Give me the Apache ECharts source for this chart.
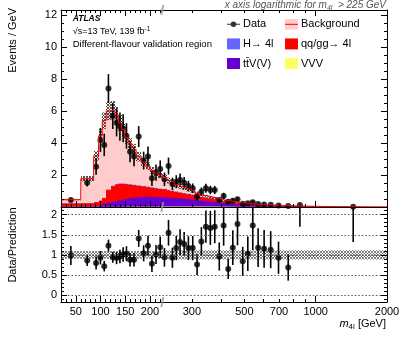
<!DOCTYPE html>
<html><head><meta charset="utf-8">
<script src="https://cdn.jsdelivr.net/npm/echarts@6/dist/echarts.min.js"></script>
<style>html,body{margin:0;padding:0;background:#fff;}#chart{width:407px;height:344px;}</style>
</head><body><div id="chart"></div>
<script>
// ---------------- data ----------------
const binEdges = [20, 60, 86, 96, 103.5, 111.5, 120.5, 129, 136, 142.5, 149, 156, 163.5, 172, 182.5, 192, 200, 208, 216.5, 225,
  234.5, 243.5, 253, 262.5, 272.5, 284, 296, 309, 322, 336, 351.5, 366.5, 383, 400, 417, 437, 456, 479, 504.5, 529, 555.5,
  587, 624, 667, 726, 805, 910, 1030, 1170, 1340, 1540, 1760, 2000];
// data, events / GeV (null = no entry)
const dataValues = [0.44, 1.52, 2.52, 4.19, 3.88, 7.40, 5.69, 5.27, 5.02, 4.92, 4.44, 3.46, 3.15, 4.40, 2.90, 3.15, 1.79, 2.15, 2.38,
  1.73, 2.56, 1.44, 1.58, 1.69, 1.52, 1.31, 1.17, 0.65, 0.96, 1.17, 1.06, 1.06, 0.44, 0.69, 0.33, 0.39, 0.48, 0.21, 0.23,
  0.30, 0.19, 0.16, 0.14, 0.09, 0.055, 0.12, null, null, null, 0.02, null, null];
// data / prediction
const ratioValues = [0.985, 0.86, 0.80, 0.93, 0.72, 1.23, 0.94, 0.92, 0.96, 1.01, 1.03, 0.88, 0.88, 1.41, 1.04, 1.23, 0.78, 1.01, 1.19,
  0.94, 1.55, 0.93, 1.17, 1.32, 1.27, 1.17, 1.17, 0.76, 1.33, 1.70, 1.67, 1.70, 0.96, 1.73, 0.65, 1.18, 1.77, 0.84, 1.03,
  1.73, 1.18, 1.15, 1.13, 0.93, 0.69, 2.4, null, null, null, 3.0, null, null];
const ratioErrors = [0.235, 0.137, 0.16, 0.166, 0.13, 0.15, 0.135, 0.15, 0.168, 0.18, 0.185, 0.17, 0.17, 0.21, 0.20, 0.245, 0.206, 0.236, 0.265,
  0.23, 0.32, 0.25, 0.30, 0.32, 0.30, 0.295, 0.30, 0.26, 0.36, 0.40, 0.42, 0.41, 0.35, 0.50, 0.25, 0.43, 0.53, 0.36, 0.43,
  0.61, 0.48, 0.47, 0.46, 0.40, 0.33, 0.70, null, null, null, 1.68, null, null];
// stacked prediction: upper edge of each layer (events / GeV)
const totalPred = [0.46, 1.77, 3.2, 4.45, 5.4, 6.0, 6.05, 5.75, 5.25, 4.85, 4.35, 3.95, 3.6, 3.15, 2.8, 2.55, 2.3, 2.13, 2.0,
  1.84, 1.66, 1.55, 1.38, 1.28, 1.19, 1.10, 1.00, 0.86, 0.73, 0.68, 0.63, 0.57, 0.50, 0.42, 0.38, 0.33, 0.28, 0.25, 0.22,
  0.18, 0.16, 0.14, 0.125, 0.10, 0.08, 0.055, 0.04, 0.028, 0.019, 0.013, 0.009, 0.006];
const stackTopH = [0.225, 0.235, 0.31, 0.40, 0.57, 1.09, 1.33, 1.43, 1.47, 1.47, 1.45, 1.42, 1.39, 1.35, 1.31, 1.27, 1.23, 1.19, 1.15,
  1.13, 1.07, 1.02, 0.97, 0.92, 0.87, 0.83, 0.78, 0.71, 0.63, 0.59, 0.55, 0.51, 0.425, 0.375, 0.34, 0.30, 0.26, 0.23, 0.20,
  0.165, 0.145, 0.125, 0.11, 0.089, 0.071, 0.05, 0.036, 0.025, 0.017, 0.012, 0.008, 0.0055];
const stackTopQQ = [0.22, 0.23, 0.30, 0.39, 0.55, 1.06, 1.30, 1.40, 1.44, 1.44, 1.42, 1.39, 1.36, 1.32, 1.28, 1.24, 1.20, 1.16, 1.12,
  1.10, 1.04, 0.99, 0.94, 0.89, 0.84, 0.80, 0.75, 0.69, 0.61, 0.57, 0.53, 0.49, 0.41, 0.36, 0.33, 0.29, 0.25, 0.22, 0.19,
  0.16, 0.14, 0.12, 0.105, 0.085, 0.068, 0.048, 0.034, 0.024, 0.016, 0.011, 0.0075, 0.005];
const stackTopTTV = [0.03, 0.04, 0.07, 0.12, 0.19, 0.26, 0.32, 0.37, 0.42, 0.46, 0.51, 0.55, 0.59, 0.62, 0.64, 0.65, 0.64, 0.63, 0.62,
  0.62, 0.60, 0.58, 0.56, 0.54, 0.52, 0.50, 0.47, 0.44, 0.40, 0.37, 0.34, 0.31, 0.28, 0.25, 0.22, 0.19, 0.16, 0.14, 0.12,
  0.10, 0.085, 0.07, 0.06, 0.048, 0.038, 0.027, 0.019, 0.013, 0.009, 0.006, 0.004, 0.0027];
const stackTopVVV = [0.01, 0.01, 0.01, 0.01, 0.01, 0.01, 0.01, 0.01, 0.01, 0.01, 0.02, 0.02, 0.02, 0.02, 0.02, 0.02, 0.02, 0.02, 0.02,
  0.03, 0.03, 0.03, 0.03, 0.03, 0.03, 0.03, 0.03, 0.03, 0.03, 0.03, 0.03, 0.025, 0.022, 0.02, 0.018, 0.016, 0.014, 0.012, 0.01,
  0.009, 0.008, 0.007, 0.006, 0.005, 0.004, 0.003, 0.0025, 0.002, 0.0015, 0.001, 0.0008, 0.0006];
// relative uncertainty of the prediction
const relUnc = [0.095, 0.095, 0.095, 0.095, 0.095, 0.095, 0.095, 0.095, 0.095, 0.095, 0.095, 0.095, 0.095, 0.095, 0.095, 0.095, 0.095, 0.095, 0.095,
  0.115, 0.115, 0.115, 0.115, 0.115, 0.115, 0.115, 0.115, 0.115, 0.115, 0.115, 0.115, 0.115, 0.115, 0.115, 0.115, 0.115, 0.115, 0.115, 0.115,
  0.115, 0.115, 0.115, 0.115, 0.115, 0.115, 0.115, 0.115, 0.115, 0.115, 0.115, 0.115, 0.115];

// ticks / labels
const linTicksMajor = [50, 100, 150, 200];
const linTicksMinor = [30, 40, 60, 70, 80, 90, 110, 120, 130, 140, 160, 170, 180, 190, 210, 220];
const linLabels = [50, 100, 150, 200];
const logTicksMajor = [1000];
const logTicksMinor = [300, 400, 500, 600, 700, 800, 900, 2000];
const logLabels = [300, 500, 700, 1000, 2000];
const mainYTicks = [0, 2, 4, 6, 8, 10, 12];
const mainYLabels = [2, 4, 6, 8, 10, 12];
const mainYMinor = [0.5, 1, 1.5, 2.5, 3, 3.5, 4.5, 5, 5.5, 6.5, 7, 7.5, 8.5, 9, 9.5, 10.5, 11, 11.5];
const ratioYTicks = [0, 0.5, 1, 1.5, 2];
const ratioYLabels = [0, 0.5, 1, 1.5, 2];
const ratioYMinor = [-0.1, 0.1, 0.2, 0.3, 0.4, 0.6, 0.7, 0.8, 0.9, 1.1, 1.2, 1.3, 1.4, 1.6, 1.7, 1.8, 1.9, 2.1];

// ---------------- layout / style ----------------
const FONT = "'Liberation Sans', Arial, Helvetica, sans-serif";
const xMin = 20, xSplit = 225, xMax = 2000;
const yMainMax = 12.31, yRatioMin = -0.17, yRatioMax = 2.19;
const PL = 61, PR = 387, PX = 162.3, PT = 10, PM = 207, PB = 302;
const COL = {bkg: '#ffcccc', bkgLine: '#ff0000', h: '#6666ff', qq: '#ff0000', ttv: '#6600cc', vvv: '#ffff66'};
const NAME_TTV = 'tt\u0304V(V)';

function hatch(color, s) {
  const c = document.createElement('canvas'); c.width = s; c.height = s;
  const g = c.getContext('2d'); g.fillStyle = color;
  for (let i = 0; i < s; i++) { g.fillRect(i, i, 1, 1); g.fillRect(s - 1 - i, i, 1, 1); }
  return c;
}
const mainPattern = {image: hatch('rgba(50,50,50,0.85)', 3), repeat: 'repeat'};
const ratioPattern = {image: hatch('rgba(90,90,90,0.75)', 3), repeat: 'repeat'};

const rects = [
  {left: PL, top: PT, width: PX - PL, height: PM - PT},
  {left: PX, top: PT, width: PR - PX, height: PM - PT},
  {left: PL, top: PM, width: PX - PL, height: PB - PM},
  {left: PX, top: PM, width: PR - PX, height: PB - PM}
];
const grid = rects.concat(rects.map(r => Object.assign({}, r)));

const xAxis = [], yAxis = [];
function addX(gi, log, pos, ticks, len, labels, line) {
  xAxis.push({
    type: log ? 'log' : 'value', logBase: 10, gridIndex: gi, position: pos,
    min: log ? xSplit : xMin, max: log ? xMax : xSplit, z: 10, silent: true,
    axisLine: {show: line, onZero: false, lineStyle: {color: '#000', width: 1}},
    axisTick: {show: true, inside: true, length: len, customValues: ticks, lineStyle: {color: '#000', width: 1}},
    axisLabel: labels ? {show: true, customValues: labels, margin: 4, color: '#000', fontSize: 11, fontFamily: FONT,
      formatter: v => String(Math.round(v))} : {show: false},
    splitLine: {show: false}, minorTick: {show: false}, minorSplitLine: {show: false}
  });
  return xAxis.length - 1;
}
function addY(gi, ratio, pos, ticks, len, labels, line, split) {
  yAxis.push({
    type: 'value', gridIndex: gi, position: pos, z: 10, silent: true,
    min: ratio ? yRatioMin : 0, max: ratio ? yRatioMax : yMainMax,
    axisLine: {show: line, onZero: false, lineStyle: {color: '#000', width: 1}},
    axisTick: {show: true, inside: true, length: len, customValues: ticks, lineStyle: {color: '#000', width: 1}},
    axisLabel: labels ? {show: true, customValues: labels, margin: 4, color: '#000', fontSize: 11, fontFamily: FONT,
      formatter: v => String(Math.round(v * 10) / 10)} : {show: false},
    splitLine: {show: split, lineStyle: {color: '#555', width: 1, type: [1.5, 2]}},
    minorTick: {show: false}, minorSplitLine: {show: false}
  });
  return yAxis.length - 1;
}
const xI = [], yI = [];
xI[0] = addX(0, false, 'bottom', linTicksMajor, 6, null, true); addX(0, false, 'top', linTicksMajor, 6, null, true);
yI[0] = addY(0, false, 'left', mainYTicks, 6, mainYLabels, true, false);
xI[1] = addX(1, true, 'bottom', logTicksMajor, 6, null, true); addX(1, true, 'top', logTicksMajor, 6, null, true);
yI[1] = addY(1, false, 'right', mainYTicks, 6, null, true, false);
xI[2] = addX(2, false, 'bottom', linTicksMajor, 6, linLabels, true);
yI[2] = addY(2, true, 'left', ratioYTicks, 6, ratioYLabels, true, true);
xI[3] = addX(3, true, 'bottom', logTicksMajor, 6, logLabels, true);
yI[3] = addY(3, true, 'right', ratioYTicks, 6, null, true, true);
// minor ticks on overlapping grids
addX(4, false, 'bottom', linTicksMinor, 3, null, false); addX(4, false, 'top', linTicksMinor, 3, null, false);
addY(4, false, 'left', mainYMinor, 3, null, false, false);
addX(5, true, 'bottom', logTicksMinor, 3, null, false); addX(5, true, 'top', logTicksMinor, 3, null, false);
addY(5, false, 'right', mainYMinor, 3, null, false, false);
addX(6, false, 'bottom', linTicksMinor, 3, null, false);
addY(6, true, 'left', ratioYMinor, 3, null, false, false);
addX(7, true, 'bottom', logTicksMinor, 3, null, false);
addY(7, true, 'right', ratioYMinor, 3, null, false, false);

// ---------------- series ----------------
const nBins = binEdges.length - 1;
const parts = [{lo: xMin, hi: xSplit, main: 0, ratio: 2}, {lo: xSplit, hi: xMax, main: 1, ratio: 3}];
function binsIn(p) { const r = []; for (let i = 0; i < nBins; i++) if (binEdges[i] >= p.lo && binEdges[i + 1] <= p.hi) r.push(i); return r; }
const centre = i => (binEdges[i] + binEdges[i + 1]) / 2;

function rectSeries(name, gi, data, fill) {
  return {
    type: 'custom', name, xAxisIndex: xI[gi], yAxisIndex: yI[gi], clip: true, silent: true,
    itemStyle: {color: typeof fill === 'string' ? fill : '#888'},
    dimensions: ['x0', 'x1', 'y0', 'y1'], encode: {x: [0, 1], y: [2, 3]}, data,
    renderItem: (params, api) => {
      const a = api.coord([api.value(0), api.value(2)]);
      const b = api.coord([api.value(1), api.value(3)]);
      const x0 = Math.round(a[0]), x1 = Math.round(b[0]);
      return {type: 'rect', shape: {x: x0, y: Math.min(a[1], b[1]), width: x1 - x0, height: Math.abs(a[1] - b[1])}, style: {fill}};
    }
  };
}
function errSeries(gi, data, w) {
  return {
    type: 'custom', xAxisIndex: xI[gi], yAxisIndex: yI[gi], clip: true, silent: true,
    dimensions: ['x', 'lo', 'hi'], encode: {x: 0, y: [1, 2]}, data,
    renderItem: (params, api) => {
      const a = api.coord([api.value(0), api.value(1)]);
      const b = api.coord([api.value(0), api.value(2)]);
      return {type: 'line', shape: {x1: a[0], y1: a[1], x2: b[0], y2: b[1]}, style: {stroke: '#000', lineWidth: w}};
    }
  };
}

const series = [];
parts.forEach((p, k) => {
  const idx = binsIn(p), gi = p.main, ri = p.ratio;
  const layer = (name, arr, col) => rectSeries(name, gi, idx.map(i => [binEdges[i], binEdges[i + 1], 0, arr[i]]), col);
  series.push(layer('Background', totalPred, COL.bkg));
  series.push(layer('H→ 4l', stackTopH, COL.h));
  series.push(layer('qq/gg→ 4l', stackTopQQ, COL.qq));
  series.push(layer(NAME_TTV, stackTopTTV, COL.ttv));
  series.push(layer('VVV', stackTopVVV, COL.vvv));
  // red outline of the total
  const pts = [];
  if (k === 1) pts.push([xSplit, totalPred[idx[0] - 1]]);
  idx.forEach(i => { pts.push([binEdges[i], totalPred[i]], [binEdges[i + 1], totalPred[i]]); });
  series.push({type: 'line', name: 'outline', xAxisIndex: xI[gi], yAxisIndex: yI[gi], data: pts, symbol: 'none', silent: true,
    clip: true, lineStyle: {color: COL.bkgLine, width: 1}});
  // uncertainty band
  series.push(rectSeries('unc', gi, idx.map(i => [binEdges[i], binEdges[i + 1], totalPred[i] * (1 - relUnc[i]), totalPred[i] * (1 + relUnc[i])]), mainPattern));
  // data
  const di = idx.filter(i => dataValues[i] != null);
  series.push(errSeries(gi, di.map(i => {
    const e = dataValues[i] * ratioErrors[i] / ratioValues[i];
    return [centre(i), dataValues[i] - e, dataValues[i] + e];
  }), 1.6));
  series.push({type: 'scatter', name: 'Data', xAxisIndex: xI[gi], yAxisIndex: yI[gi], symbol: 'circle', symbolSize: 6, silent: true,
    itemStyle: {color: '#000'}, clip: true, data: di.map(i => [centre(i), dataValues[i]])});
  // ratio panel
  series.push(rectSeries('uncRatio', ri, idx.map(i => [binEdges[i], binEdges[i + 1], 1 - relUnc[i], 1 + relUnc[i]]), ratioPattern));
  const rdi = idx.filter(i => ratioValues[i] != null);
  series.push(errSeries(ri, rdi.map(i => [centre(i), ratioValues[i] - ratioErrors[i], ratioValues[i] + ratioErrors[i]]), 1.6));
  series.push({type: 'scatter', name: 'DataRatio', xAxisIndex: xI[ri], yAxisIndex: yI[ri], symbol: 'circle', symbolSize: 6, silent: true,
    itemStyle: {color: '#000'}, clip: true, data: rdi.map(i => [centre(i), ratioValues[i]])});
});
// axis-break markers
const breakSym = 'path://M2,0 L4,0 L2,10 L0,10 Z';
series.push({type: 'scatter', xAxisIndex: xI[0], yAxisIndex: yI[0], clip: false, silent: true, z: 20, symbol: breakSym, symbolSize: [4, 10],
  itemStyle: {color: '#999'}, data: [[xSplit, 0], [xSplit, yMainMax]]});
series.push({type: 'scatter', xAxisIndex: xI[2], yAxisIndex: yI[2], clip: false, silent: true, z: 20, symbol: breakSym, symbolSize: [4, 10],
  itemStyle: {color: '#999'}, data: [[xSplit, yRatioMin]]});

const dataIcon = 'path://M0,2.4h14v1.2H0z M7,0a3,3 0 1,1 0,6a3,3 0 1,1 0,-6z';
const bkgIcon = 'image://data:image/svg+xml;charset=utf-8,' + encodeURIComponent(
  '<svg xmlns="http://www.w3.org/2000/svg" width="13" height="11" viewBox="0 0 13 11"><rect x="0" y="0" width="13" height="11" fill="#ffcccc"/><rect x="0" y="5" width="13" height="1" fill="#ff0000"/></svg>');
const legendBase = {orient: 'vertical', top: 18.8, padding: 0, itemWidth: 13, itemHeight: 11, itemGap: 8.6, selectedMode: false,
  textStyle: {fontSize: 11, fontFamily: FONT, color: '#000', padding: [0, 0, 0, -2]}};

const option = {
  animation: false,
  textStyle: {fontFamily: FONT},
  grid, xAxis, yAxis, series,
  legend: [
    Object.assign({left: 227, data: [{name: 'Data', icon: dataIcon}, {name: 'H→ 4l', icon: 'rect'}, {name: NAME_TTV, icon: 'rect'}]}, legendBase),
    Object.assign({left: 285, data: [{name: 'Background', icon: bkgIcon}, {name: 'qq/gg→ 4l', icon: 'rect'}, {name: 'VVV', icon: 'rect'}]}, legendBase)
  ],
  graphic: [
    {type: 'text', x: 386, y: 5.5, style: {text: 'x axis logarithmic for m{s|4l}  > 225 GeV', align: 'right', verticalAlign: 'middle',
      fontFamily: FONT, fontSize: 10, fontStyle: 'italic', fill: '#555',
      rich: {s: {fontFamily: FONT, fontSize: 7, fontStyle: 'italic', fill: '#555', padding: [5, 0, 0, 0]}}}},
    {type: 'text', x: 72.7, y: 18.5, style: {text: 'ATLAS', fontFamily: FONT, fontSize: 8.5, fontStyle: 'italic', fontWeight: 'bold', fill: '#000', verticalAlign: 'middle'}},
    {type: 'text', x: 72.7, y: 32, style: {text: '√s=13 TeV, 139 fb{p|-1}', fontFamily: FONT, fontSize: 9, fill: '#000', verticalAlign: 'middle',
      rich: {p: {fontFamily: FONT, fontSize: 6.5, fill: '#000', padding: [0, 0, 5, 0]}}}},
    {type: 'text', x: 72.7, y: 44.3, style: {text: 'Different-flavour validation region', fontFamily: FONT, fontSize: 9.5, fill: '#000', verticalAlign: 'middle'}},
    {type: 'text', x: 13, y: 8, rotation: Math.PI / 2, style: {text: 'Events / GeV', fontFamily: FONT, fontSize: 11, fill: '#000', align: 'right', verticalAlign: 'middle'}},
    {type: 'text', x: 13, y: 245, rotation: Math.PI / 2, style: {text: 'Data/Prediction', fontFamily: FONT, fontSize: 11, fill: '#000', align: 'center', verticalAlign: 'middle'}},
    {type: 'text', x: 386, y: 324, style: {text: '{i|m}{s|4l} [GeV]', fontFamily: FONT, fontSize: 11, fill: '#000', align: 'right', verticalAlign: 'middle',
      rich: {i: {fontFamily: FONT, fontSize: 11, fontStyle: 'italic', fill: '#000'}, s: {fontFamily: FONT, fontSize: 8, fill: '#000', padding: [5, 0, 0, 0]}}}}
  ]
};
const chart = echarts.init(document.getElementById('chart'), null, {renderer: 'canvas'});
chart.setOption(option);
</script>
</body></html>
